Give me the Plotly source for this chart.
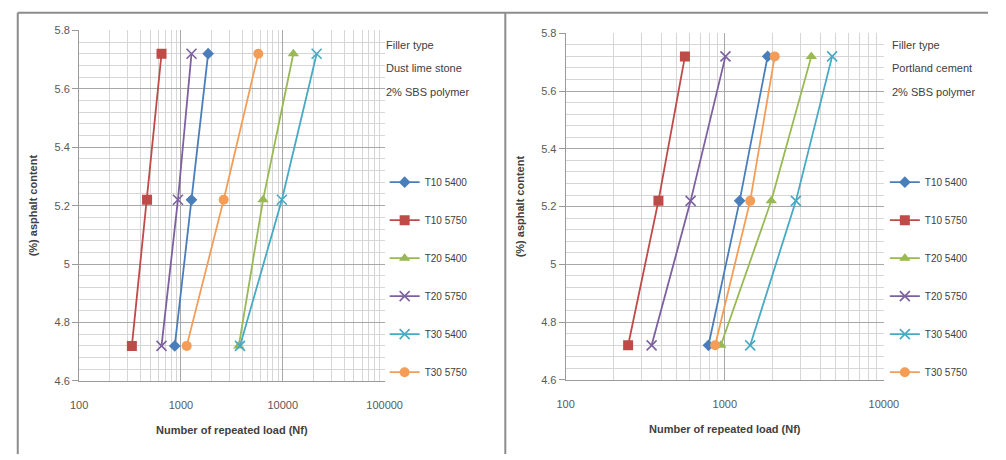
import plotly.graph_objects as go

# Asphalt content levels (%)
asphalt = [4.72, 5.22, 5.72]

series_names = ["T10 5400", "T10 5750", "T20 5400", "T20 5750", "T30 5400", "T30 5750"]

# Number of repeated load (Nf) - dust lime stone filler
dust_t10_5400 = [870, 1270, 1850]
dust_t10_5750 = [330, 465, 645]
dust_t20_5400 = [3700, 6400, 12700]
dust_t20_5750 = [645, 935, 1270]
dust_t30_5400 = [3800, 9800, 21500]
dust_t30_5750 = [1140, 2630, 5750]

# Number of repeated load (Nf) - portland cement filler
pc_t10_5400 = [790, 1240, 1860]
pc_t10_5750 = [247, 383, 562]
pc_t20_5400 = [945, 1960, 3500]
pc_t20_5750 = [347, 610, 1010]
pc_t30_5400 = [1445, 2800, 4730]
pc_t30_5750 = [870, 1445, 2060]

x_tick_vals = [100, 1000, 10000, 100000]
y_tick_vals = [4.6, 4.8, 5.0, 5.2, 5.4, 5.6, 5.8]

dust = [dust_t10_5400, dust_t10_5750, dust_t20_5400, dust_t20_5750, dust_t30_5400, dust_t30_5750]
cement = [pc_t10_5400, pc_t10_5750, pc_t20_5400, pc_t20_5750, pc_t30_5400, pc_t30_5750]

colors = ["#4A7EBB", "#BE4B48", "#98B954", "#7D60A0", "#46AAC5", "#F59D56"]
symbols = ["diamond", "square", "triangle-up", "x-thin", "x-thin", "circle"]
sizes = [9, 10, 10, 10, 10, 10]

W, H = 1006, 460
FONT = "Liberation Sans Narrow, Liberation Sans, Arial"


def px(x):
    return x / W


def py(y):
    return 1 - y / H


fig = go.Figure()

for panel, (data, xa, ya, leg) in enumerate([(dust, "x", "y", "legend"), (cement, "x2", "y2", "legend2")]):
    for i, name in enumerate(series_names):
        sym = symbols[i]
        marker = dict(symbol=sym, size=sizes[i], color=colors[i])
        if "thin" in sym:
            marker["line"] = dict(color=colors[i], width=1.6)
        fig.add_trace(go.Scatter(
            x=data[i], y=asphalt, mode="lines+markers", name=name,
            line=dict(color=colors[i], width=1.8), marker=marker,
            xaxis=xa, yaxis=ya, legend=leg, legendgroup=f"{panel}-{i}",
        ))

grid_major = "#a8a8a8"
grid_minor = "#d6d6d6"
tickfont = dict(family=FONT, size=11, color="#595959")
titlefont = dict(family=FONT, size=11, color="#404040")


def xaxis(domain, rng, anchor):
    vals = [v for v in x_tick_vals if v <= 10 ** rng[1]]
    return dict(
        type="log", domain=domain, range=rng, anchor=anchor,
        tickmode="array", tickvals=vals, ticktext=[str(v) for v in vals],
        showgrid=True, gridcolor=grid_major, gridwidth=1,
        minor=dict(dtick="D1", showgrid=True, gridcolor=grid_minor, gridwidth=1),
        showline=True, linecolor="#9a9a9a", ticks="", tickfont=tickfont,
        ticklabelstandoff=14, zeroline=False,
        title=dict(text="<b>Number of repeated load (Nf)</b>", font=titlefont, standoff=16),
    )


def yaxis(domain, anchor):
    return dict(
        domain=domain, range=[4.6, 5.8], anchor=anchor,
        tickmode="array", tickvals=y_tick_vals, ticktext=[f"{v:g}" for v in y_tick_vals],
        showgrid=True, gridcolor=grid_major, gridwidth=1,
        minor=dict(tickmode="linear", tick0=4.6, dtick=0.04, showgrid=True, gridcolor=grid_minor, gridwidth=1),
        showline=True, linecolor="#9a9a9a", ticks="outside", ticklen=6, tickcolor="#9a9a9a",
        tickfont=tickfont, zeroline=False,
        title=dict(text="<b>(%) asphalt content</b>", font=titlefont, standoff=14),
    )


legend_common = dict(
    bgcolor="rgba(0,0,0,0)", font=dict(family=FONT, size=10, color="#404040"),
    tracegroupgap=19, itemwidth=30, yanchor="top", xanchor="left",
)

fig.update_layout(
    width=W, height=H, margin=dict(l=0, r=0, t=0, b=0),
    paper_bgcolor="white", plot_bgcolor="white", showlegend=True,
    xaxis=xaxis([px(72), px(386)], [2, 5], "y"),
    yaxis=yaxis([py(385), py(25)], "x"),
    xaxis2=xaxis([px(572), px(899)], [2, 4], "y2"),
    yaxis2=yaxis([py(384), py(28)], "x2"),
    legend=dict(x=px(386), y=py(166), **legend_common),
    legend2=dict(x=px(900), y=py(166), **legend_common),
)

# Filler description beside each chart, one annotation per line
filler_lines = [
    (["Filler type", "Dust lime stone", "2% SBS polymer"], 385),
    (["Filler type", "Portland cement", "2% SBS polymer"], 905),
]
for lines, x0 in filler_lines:
    for k, line in enumerate(lines):
        fig.add_annotation(
            text=line, x=px(x0), y=py(40 + 24 * k), xref="paper", yref="paper",
            xanchor="left", yanchor="middle", align="left", showarrow=False,
            font=dict(family=FONT, size=11, color="#404040"),
        )

# Panel frame lines
frame = dict(color="#8c8c8c", width=2)
fig.add_shape(type="line", xref="paper", yref="paper", x0=px(9), x1=1, y0=py(7), y1=py(7), line=frame)
fig.add_shape(type="line", xref="paper", yref="paper", x0=px(9), x1=px(9), y0=py(7), y1=0, line=frame)
fig.add_shape(type="line", xref="paper", yref="paper", x0=px(510), x1=px(510), y0=py(7), y1=0, line=frame)

fig.write_html("out.html")
